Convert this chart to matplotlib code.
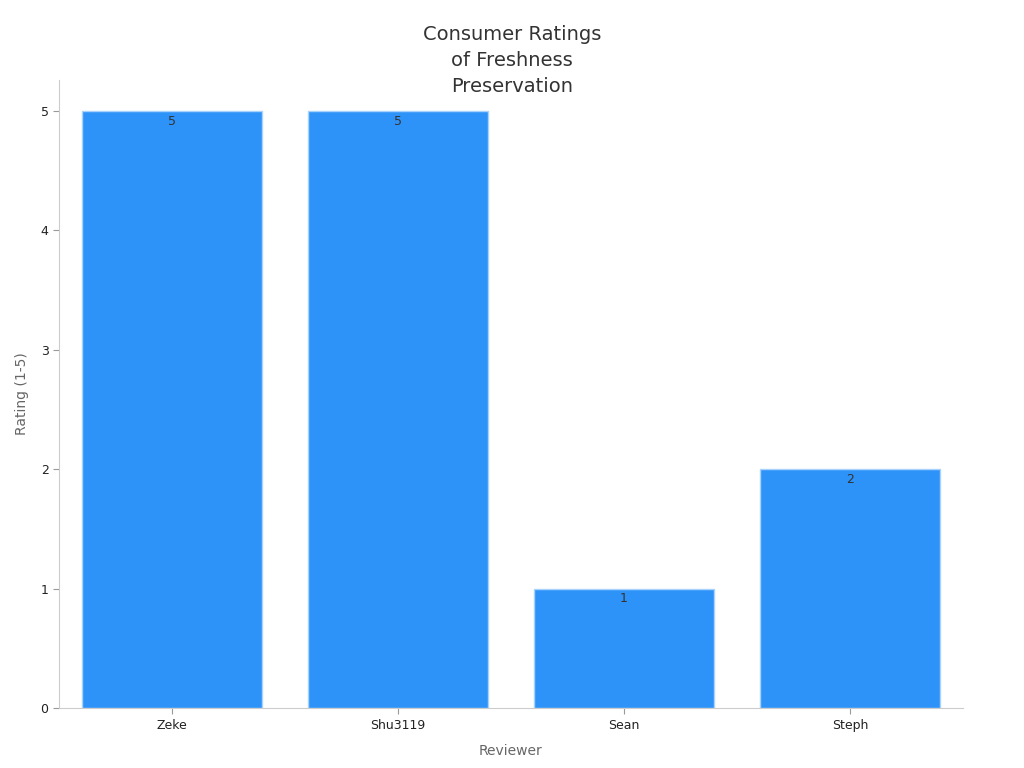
import numpy as np
import matplotlib.pyplot as plt

reviewers = ["Zeke", "Shu3119", "Sean", "Steph"]
ratings = [5, 5, 1, 2]

fig = plt.figure(figsize=(10.24, 7.68), dpi=100)
ax = fig.add_axes([0.0576, 0.078, 0.8828, 0.818])

x = np.arange(len(reviewers))
bars = ax.bar(x, ratings, width=0.8, color="#2E93F8", edgecolor="#A9D2FB", linewidth=1)
for b, v in zip(bars, ratings):
    ax.text(b.get_x() + b.get_width() / 2, v - 0.03, str(v), ha="center", va="top",
            fontsize=9, color="#333333")

ax.set_xlim(-0.5, 3.5)
ax.set_ylim(0, 5.26)
ax.set_xticks(x)
ax.set_xticklabels(reviewers)
ax.set_yticks([0, 1, 2, 3, 4, 5])
ax.tick_params(labelsize=9, colors="#222222", length=4)
ax.tick_params(axis="both", color="#999999")
for s in ["top", "right"]:
    ax.spines[s].set_visible(False)
for s in ["left", "bottom"]:
    ax.spines[s].set_color("#cccccc")
ax.set_xlabel("Reviewer", fontsize=10, color="#666666", labelpad=9)
ax.set_ylabel("Rating (1-5)", fontsize=10, color="#666666", labelpad=8)
fig.text(0.5, 0.875, "Consumer Ratings\nof Freshness\nPreservation", ha="center", va="bottom",
         fontsize=14, color="#333333", linespacing=1.45)

fig.savefig("out.png", dpi=100)
